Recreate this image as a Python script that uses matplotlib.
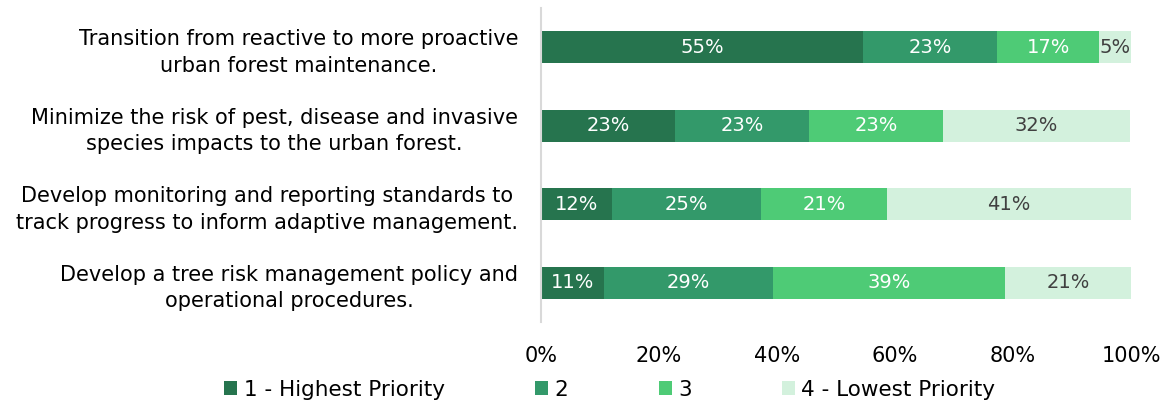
import matplotlib
matplotlib.use("Agg")
import matplotlib.pyplot as plt
import numpy as np

categories = [
    "Transition from reactive to more proactive\nurban forest maintenance.",
    "Minimize the risk of pest, disease and invasive\nspecies impacts to the urban forest.",
    "Develop monitoring and reporting standards to\ntrack progress to inform adaptive management.",
    "Develop a tree risk management policy and\noperational procedures.",
]
series_names = ["1 - Highest Priority", "2", "3", "4 - Lowest Priority"]
p1 = [54.6, 22.7, 12.0, 10.7]
p2 = [22.7, 22.7, 25.3, 28.6]
p3 = [17.3, 22.7, 21.3, 39.3]
p4 = [5.4, 31.8, 41.4, 21.4]
labels1 = ["55%", "23%", "12%", "11%"]
labels2 = ["23%", "23%", "25%", "29%"]
labels3 = ["17%", "23%", "21%", "39%"]
labels4 = ["5%", "32%", "41%", "21%"]
xticks = [0, 20, 40, 60, 80, 100]
xtick_labels = ["0%", "20%", "40%", "60%", "80%", "100%"]

colors = ["#26744E", "#33996A", "#4ECB76", "#D3F1DD"]
text_colors = ["white", "white", "white", "#404040"]

plt.rcParams['font.family'] = ['DejaVu Sans']

fig = plt.figure(figsize=(11.66, 4.07), dpi=100)
ax = fig.add_axes([541/1166, 1-322/407, (1131-541)/1166, (322-8)/407])

y = np.arange(len(categories))
left = np.zeros(len(categories))
series = [p1, p2, p3, p4]
lbls = [labels1, labels2, labels3, labels4]
for vals, lab, name, c, tc in zip(series, lbls, series_names, colors, text_colors):
    vals = np.array(vals)
    ax.barh(y, vals, left=left, height=0.41, color=c, label=name, edgecolor='none')
    for i, (v, l) in enumerate(zip(vals, lab)):
        ax.text(left[i] + v/2, y[i], l, ha='center', va='center', color=tc, fontsize=14)
    left = left + vals

ax.set_xlim(0, 100)
ax.set_ylim(len(categories) - 0.5, -0.5)
ax.set_yticks(y)
ax.set_yticklabels(categories, fontsize=15, multialignment='center', color='black',
                   linespacing=1.4)
ax.set_xticks(xticks)
ax.set_xticklabels(xtick_labels, fontsize=15, color='black')
ax.tick_params(axis='y', length=0, pad=16.5)
ax.tick_params(axis='x', length=0, pad=17)
for s in ['top', 'right', 'bottom']:
    ax.spines[s].set_visible(False)
ax.spines['left'].set_color('#D9D9D9')
ax.spines['left'].set_linewidth(1.5)

handles, labs = ax.get_legend_handles_labels()
fig.legend(handles, labs, loc='center', bbox_to_anchor=(0.523, 0.042), ncol=4,
           frameon=False, fontsize=15.5, handlelength=0.6, handleheight=0.6,
           handletextpad=0.3, columnspacing=4.2)

fig.savefig("out.png", dpi=100)
